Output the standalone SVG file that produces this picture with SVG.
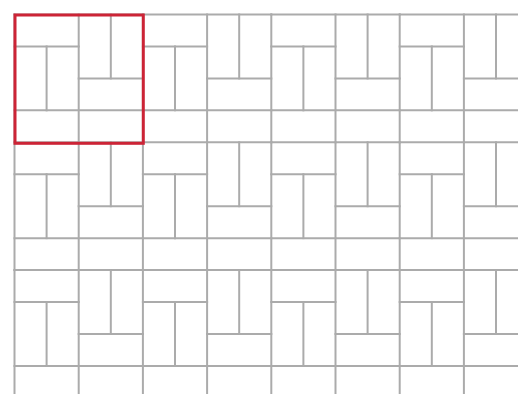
<svg xmlns="http://www.w3.org/2000/svg" xmlns:xlink="http://www.w3.org/1999/xlink" width="518" height="394" viewBox="0 0 518 394">
  <style>
    .joint { stroke: #ababab; stroke-width: 2; fill: none; stroke-linecap: square; }
    .frame { stroke: #cc2436; stroke-width: 3; fill: none; }
  </style>
  <defs>
    <g id="tile" class="joint">
      <line x1="0" y1="0" x2="128.4" y2="0"/>
      <line x1="0" y1="0" x2="0" y2="127.8"/>
      <line x1="0" y1="31.95" x2="64.2" y2="31.95"/>
      <line x1="64.2" y1="63.9" x2="128.4" y2="63.9"/>
      <line x1="0" y1="95.85" x2="128.4" y2="95.85"/>
      <line x1="32.1" y1="31.95" x2="32.1" y2="95.85"/>
      <line x1="64.2" y1="0" x2="64.2" y2="127.8"/>
      <line x1="96.3" y1="0" x2="96.3" y2="63.9"/>
    </g>
  </defs>
  <rect x="0" y="0" width="518" height="394" fill="#ffffff"/>
  <g id="paving">
    <use xlink:href="#tile" href="#tile" x="14.5" y="14.5"/>
    <use xlink:href="#tile" href="#tile" x="142.9" y="14.5"/>
    <use xlink:href="#tile" href="#tile" x="271.3" y="14.5"/>
    <use xlink:href="#tile" href="#tile" x="399.7" y="14.5"/>
    <use xlink:href="#tile" href="#tile" x="14.5" y="142.3"/>
    <use xlink:href="#tile" href="#tile" x="142.9" y="142.3"/>
    <use xlink:href="#tile" href="#tile" x="271.3" y="142.3"/>
    <use xlink:href="#tile" href="#tile" x="399.7" y="142.3"/>
    <use xlink:href="#tile" href="#tile" x="14.5" y="270.1"/>
    <use xlink:href="#tile" href="#tile" x="142.9" y="270.1"/>
    <use xlink:href="#tile" href="#tile" x="271.3" y="270.1"/>
    <use xlink:href="#tile" href="#tile" x="399.7" y="270.1"/>
  </g>
  <rect id="highlight" class="frame" x="15" y="15" width="128.3" height="128.3"/>
</svg>
